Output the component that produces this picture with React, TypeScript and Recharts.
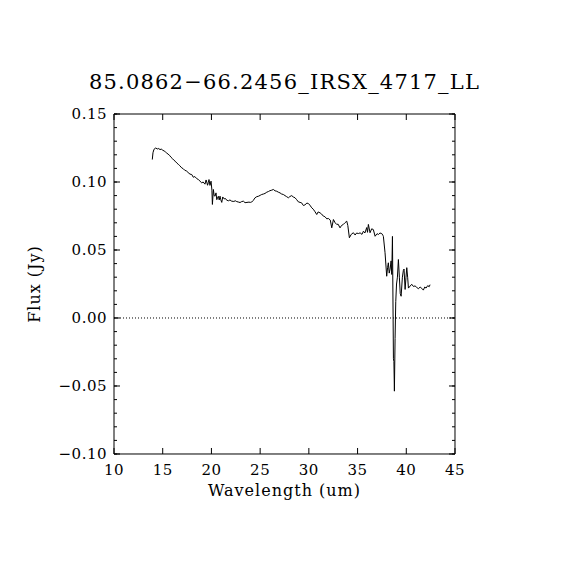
import React from 'react';
import {
  LineChart,
  Line,
  XAxis,
  YAxis,
  ReferenceLine,
} from 'recharts';

const TITLE = '85.0862\u221266.2456_IRSX_4717_LL';

// wavelength (um)
const wavelength = [
  13.93, 14.0, 14.1, 14.28, 14.45, 14.6, 14.72, 14.85, 15.0, 15.15, 15.3, 15.41,
  15.55, 15.7, 15.85, 16.0, 16.15, 16.3, 16.44, 16.6, 16.75, 16.95, 17.1, 17.25,
  17.46, 17.6, 17.8, 17.98, 18.14, 18.3, 18.49, 18.66, 18.83, 19.0, 19.15, 19.34,
  19.45, 19.52, 19.6, 19.68, 19.75, 19.85, 19.96, 20.05, 20.1, 20.2, 20.28, 20.37,
  20.47, 20.55, 20.62, 20.71, 20.8, 20.88, 20.95, 21.06, 21.16, 21.3, 21.45, 21.57,
  21.75, 21.9, 22.08, 22.3, 22.45, 22.6, 22.8, 22.94, 23.1, 23.28, 23.45, 23.65,
  23.85, 24.0, 24.14, 24.3, 24.48, 24.65, 24.85, 25.0, 25.16, 25.35, 25.5, 25.68,
  25.85, 26.0, 26.19, 26.36, 26.53, 26.7, 26.87, 27.04, 27.2, 27.38, 27.55, 27.7,
  27.9, 28.05, 28.24, 28.4, 28.58, 28.75, 28.92, 29.1, 29.25, 29.44, 29.6, 29.8,
  29.95, 30.1, 30.3, 30.45, 30.6, 30.81, 30.95, 31.15, 31.3, 31.49, 31.65, 31.84,
  32.0, 32.2, 32.35, 32.52, 32.7, 32.86, 33.0, 33.2, 33.35, 33.54, 33.7, 33.89,
  34.0, 34.16, 34.35, 34.57, 34.75, 34.9, 35.08, 35.26, 35.45, 35.6, 35.75, 35.94,
  36.02, 36.11, 36.28, 36.45, 36.62, 36.8, 37.0, 37.14, 37.3, 37.48, 37.6, 37.65,
  37.82, 37.99, 38.08, 38.16, 38.25, 38.34, 38.44, 38.51, 38.58, 38.68, 38.73, 38.78,
  38.85, 38.92, 39.0, 39.09, 39.19, 39.29, 39.38, 39.47, 39.6, 39.7, 39.77, 39.88,
  39.97, 40.05, 40.14, 40.22, 40.4, 40.56, 40.73, 40.9, 41.07, 41.25, 41.42, 41.59,
  41.75, 41.9, 42.03, 42.2, 42.35, 42.44,
];

// flux (Jy)
const flux = [
  0.1165, 0.1215, 0.124, 0.125, 0.1243, 0.1246, 0.1238, 0.1242, 0.1234, 0.1228, 0.122, 0.1213,
  0.1205, 0.1196, 0.1182, 0.1172, 0.116, 0.1152, 0.114, 0.113, 0.112, 0.1104, 0.1098, 0.1087,
  0.108, 0.107, 0.1058, 0.1055, 0.1035, 0.104, 0.1025, 0.1018, 0.1006, 0.0994, 0.1, 0.0984,
  0.1015, 0.1, 0.0976, 0.0995, 0.1018, 0.0975, 0.1006, 0.094, 0.0835, 0.0945, 0.09, 0.0896,
  0.092, 0.087, 0.0884, 0.0895, 0.0868, 0.0896, 0.0871, 0.085, 0.089, 0.0876, 0.0878, 0.0866,
  0.0862, 0.0868, 0.0859, 0.0857, 0.0862, 0.0856, 0.0852, 0.0849, 0.0856, 0.0859, 0.0848, 0.085,
  0.0852, 0.085, 0.0853, 0.0865, 0.0884, 0.0892, 0.0896, 0.0902, 0.0908, 0.0912, 0.0916, 0.0925,
  0.093, 0.0936, 0.094, 0.0945, 0.0935, 0.0932, 0.0925, 0.092, 0.0912, 0.0908, 0.09, 0.0893,
  0.0884, 0.0893, 0.09, 0.089, 0.0884, 0.087, 0.0854, 0.085, 0.0847, 0.0827, 0.0832, 0.0845,
  0.0842, 0.083, 0.081, 0.08, 0.0785, 0.0761, 0.078, 0.0773, 0.0765, 0.0749, 0.0745, 0.0729,
  0.0732, 0.072, 0.0663, 0.0724, 0.07, 0.0688, 0.069, 0.0663, 0.068, 0.0688, 0.07, 0.0712,
  0.068, 0.059, 0.0615, 0.0627, 0.061, 0.0625, 0.0621, 0.0626, 0.0615, 0.0638, 0.0625, 0.0665,
  0.063, 0.0688, 0.0627, 0.0656, 0.065, 0.0601, 0.062, 0.0614, 0.0625, 0.0621, 0.0608, 0.06,
  0.048, 0.0307, 0.037, 0.0406, 0.033, 0.036, 0.042, 0.032, 0.06, -0.03, -0.032, -0.0538,
  -0.015, 0.012, 0.025, 0.03, 0.043, 0.03, 0.018, 0.016, 0.03, 0.035, 0.036, 0.021,
  0.03, 0.037, 0.03, 0.022, 0.0235, 0.0248, 0.0232, 0.0236, 0.0225, 0.0215, 0.0228, 0.0218,
  0.0205, 0.0228, 0.022, 0.0238, 0.023, 0.0245,
];

const xTicks = [10, 15, 20, 25, 30, 35, 40, 45];
const yTicks = [-0.1, -0.05, 0, 0.05, 0.1, 0.15];
const yMinorTicks = Array.from({ length: 26 }, (_, i) => Math.round((-0.1 + i * 0.01) * 100) / 100);

const data = wavelength.map((wl, i) => ({ wl, flux: flux[i] }));

const FONT = '"DejaVu Serif", serif';
const THIN = 0.001; // axis boxes need a non-zero size to be drawn
const tickStyle = { fill: '#000', fontSize: 15, fontFamily: FONT, letterSpacing: 0.5 };
const fmtY = (v: number) => (v < 0 ? '\u2212' + Math.abs(v).toFixed(2) : v.toFixed(2));
const blank = () => '';

// x ticks: draw the inward tick mark ourselves, plus the label on the bottom axis
function BottomTick(props: any) {
  const { x, y, payload } = props;
  return (
    <g>
      <line x1={x} x2={x} y1={y} y2={y - 6} stroke="#000" />
      <text
        x={x}
        y={y + 21}
        textAnchor="middle"
        fill="#000"
        fontSize={15}
        fontFamily={FONT}
        letterSpacing={0.5}
      >
        {payload.value}
      </text>
    </g>
  );
}

function TopTick(props: any) {
  const { x, y } = props;
  return <line x1={x} x2={x} y1={y} y2={y + 6} stroke="#000" />;
}

function YTitle(props: any) {
  const vb = props.viewBox || {};
  const cx = vb.x - 74;
  const cy = vb.y + vb.height / 2;
  return (
    <text
      x={cx}
      y={cy}
      transform={`rotate(-90 ${cx} ${cy})`}
      textAnchor="middle"
      fontFamily={FONT}
      fontSize={16}
      letterSpacing={1}
      fill="#000"
    >
      Flux (Jy)
    </text>
  );
}

export default function App() {
  return (
    <div style={{ width: 570, height: 570 }}>
      <LineChart
        width={570}
        height={570}
        data={data}
        margin={{ top: 106, left: 106, right: 123, bottom: 124 }}
      >
        <XAxis
          xAxisId="bottom"
          dataKey="wl"
          type="number"
          domain={[10, 45]}
          ticks={xTicks}
          interval={0}
          allowDataOverflow
          height={THIN}
          tickLine={false}
          tickSize={0}
          tickMargin={0}
          stroke="#000"
          tick={<BottomTick />}
          label={{
            value: 'Wavelength (um)',
            position: 'bottom',
            offset: 31,
            fill: '#000',
            fontSize: 16,
            fontFamily: FONT,
            letterSpacing: 1,
          }}
        />
        <XAxis
          xAxisId="top"
          orientation="top"
          dataKey="wl"
          type="number"
          domain={[10, 45]}
          ticks={xTicks}
          interval={0}
          allowDataOverflow
          height={THIN}
          tickLine={false}
          tickSize={0}
          tickMargin={0}
          stroke="#000"
          tick={<TopTick />}
          label={{
            value: TITLE,
            position: 'top',
            offset: 25,
            fill: '#000',
            fontSize: 21,
            fontFamily: FONT,
            letterSpacing: 1.2,
          }}
        />
        <YAxis
          yAxisId="left"
          type="number"
          domain={[-0.1, 0.15]}
          ticks={yTicks}
          interval={0}
          allowDataOverflow
          width={THIN}
          tickSize={-6}
          tickMargin={13}
          tickFormatter={fmtY}
          stroke="#000"
          tick={tickStyle}
          label={<YTitle />}
        />
        <YAxis
          yAxisId="leftMinor"
          type="number"
          domain={[-0.1, 0.15]}
          ticks={yMinorTicks}
          interval={0}
          allowDataOverflow
          width={THIN}
          tickSize={-3}
          tickFormatter={blank}
          axisLine={false}
          stroke="#000"
        />
        <YAxis
          yAxisId="right"
          orientation="right"
          type="number"
          domain={[-0.1, 0.15]}
          ticks={yTicks}
          interval={0}
          allowDataOverflow
          width={THIN}
          tickSize={-6}
          tickFormatter={blank}
          stroke="#000"
        />
        <YAxis
          yAxisId="rightMinor"
          orientation="right"
          type="number"
          domain={[-0.1, 0.15]}
          ticks={yMinorTicks}
          interval={0}
          allowDataOverflow
          width={THIN}
          tickSize={-3}
          tickFormatter={blank}
          axisLine={false}
          stroke="#000"
        />
        <ReferenceLine
          xAxisId="bottom"
          yAxisId="left"
          y={0}
          stroke="#000"
          strokeDasharray="1 2"
        />
        {/* invisible copy so the top/right frame axes get a proper scale */}
        <Line
          xAxisId="top"
          yAxisId="right"
          type="linear"
          dataKey="flux"
          stroke="none"
          dot={false}
          activeDot={false}
          isAnimationActive={false}
        />
        <Line
          xAxisId="bottom"
          yAxisId="left"
          type="linear"
          dataKey="flux"
          stroke="#000"
          strokeWidth={1}
          dot={false}
          isAnimationActive={false}
        />
      </LineChart>
    </div>
  );
}
